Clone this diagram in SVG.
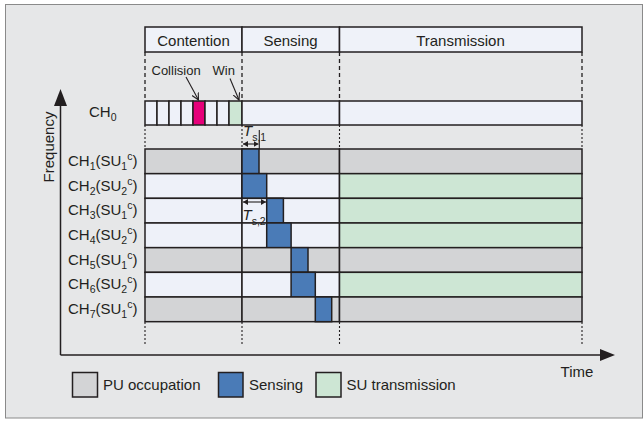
<svg xmlns="http://www.w3.org/2000/svg" width="644" height="421" viewBox="0 0 644 421">
<defs>
<style>
text{font-family:"Liberation Sans",Arial,sans-serif;fill:#231f20;}
.lbl{font-size:15px;}
.sm{font-size:13px;}
.sub{font-size:10.5px;}
.cell{stroke:#231f20;stroke-width:1.5;}
.hdr{fill:#eff2f9;}
.lt{fill:#eef1f9;}
.pu{fill:#d3d4d6;}
.bl{fill:#4a7bb7;}
.gr{fill:#cde6d4;}
.mg{fill:#e6007a;}
.dash{stroke:#231f20;stroke-width:1.3;stroke-dasharray:4 3;fill:none;}
.dot{stroke:#231f20;stroke-width:1.1;stroke-dasharray:2 2;fill:none;}
.ax{stroke:#231f20;stroke-width:1.5;fill:none;}
.thin{stroke:#231f20;stroke-width:1.1;fill:none;}
</style>
<marker id="open" markerWidth="8" markerHeight="8" refX="7" refY="4" orient="auto" markerUnits="userSpaceOnUse">
<path d="M0,0.5 L7,4 L0,7.5" fill="none" stroke="#231f20" stroke-width="1.1"/>
</marker>
<marker id="tri" markerWidth="6" markerHeight="6" refX="5" refY="3" orient="auto-start-reverse" markerUnits="userSpaceOnUse">
<path d="M0,0 L5,3 L0,6 Z" fill="#231f20"/>
</marker>
</defs>

<rect x="5.5" y="4.5" width="637" height="413.5" fill="#e6e7e8" stroke="#8a8a8a" stroke-width="1"/>

<g id="axes">
<line class="ax" x1="60.5" y1="355" x2="601" y2="355"/>
<path d="M600,349 L615,355 L600,361 Z" fill="#231f20"/>
<line class="ax" x1="60.5" y1="355" x2="60.5" y2="104"/>
<path d="M54,106 L60.5,89 L67,106 Z" fill="#231f20"/>
<text class="lbl" font-size="14.5" text-anchor="middle" transform="translate(53.5,147) rotate(-90)">Frequency</text>
<text class="lbl" x="577" y="376.5" text-anchor="middle">Time</text>
</g>

<g id="header">
<rect class="cell hdr" x="145" y="27" width="97" height="25"/>
<rect class="cell hdr" x="242" y="27" width="97.5" height="25"/>
<rect class="cell hdr" x="339.5" y="27" width="242.5" height="25"/>
<text class="lbl" x="193.5" y="45.5" text-anchor="middle">Contention</text>
<text class="lbl" x="290.5" y="45.5" text-anchor="middle">Sensing</text>
<text class="lbl" x="460.5" y="45.5" text-anchor="middle">Transmission</text>
</g>

<g id="guides">
<path class="dash" d="M145,52 V101 M242,52 V101 M339.5,52 V101 M582,52 V101"/>
<path class="dot" d="M145,125 V149 M242,125 V149 M339.5,125 V149 M582,125 V149"/>
<path class="dot" d="M145,322 V344 M242,322 V344 M339.5,322 V344 M582,322 V344"/>
</g>

<g id="ch0">
<rect class="cell lt" x="145" y="101" width="12" height="24"/>
<rect class="cell lt" x="157" y="101" width="12" height="24"/>
<rect class="cell lt" x="169" y="101" width="12" height="24"/>
<rect class="cell lt" x="181" y="101" width="12" height="24"/>
<rect class="cell mg" x="193" y="101" width="12" height="24"/>
<rect class="cell lt" x="205" y="101" width="12" height="24"/>
<rect class="cell lt" x="217" y="101" width="12" height="24"/>
<rect class="cell gr" x="229" y="101" width="13" height="24"/>
<rect class="cell lt" x="242" y="101" width="97.5" height="24"/>
<rect class="cell lt" x="339.5" y="101" width="242.5" height="24"/>
<text class="lbl" x="89" y="117">CH<tspan class="sub" dy="4">0</tspan></text>
<text class="sm" x="151.5" y="75">Collision</text>
<text class="sm" x="212.5" y="75">Win</text>
</g>

<g id="ch1">
<rect class="cell pu" x="145" y="149" width="97" height="24.67"/>
<rect class="cell pu" x="242" y="149" width="97.5" height="24.67"/>
<rect class="cell pu" x="339.5" y="149" width="242.5" height="24.67"/>
<rect class="cell bl" x="242" y="149" width="17" height="24.67"/>
<text class="lbl" x="68" y="166">CH<tspan class="sub" dy="4">1</tspan><tspan dy="-4">(SU</tspan><tspan class="sub" dy="4">1</tspan><tspan class="sub" dy="-10">c</tspan><tspan dy="6">)</tspan></text>
</g>
<g id="ch2">
<rect class="cell lt" x="145" y="173.67" width="97" height="24.67"/>
<rect class="cell lt" x="242" y="173.67" width="97.5" height="24.67"/>
<rect class="cell gr" x="339.5" y="173.67" width="242.5" height="24.67"/>
<rect class="cell bl" x="242" y="173.67" width="24.7" height="24.67"/>
<text class="lbl" x="68" y="190.7">CH<tspan class="sub" dy="4">2</tspan><tspan dy="-4">(SU</tspan><tspan class="sub" dy="4">2</tspan><tspan class="sub" dy="-10">c</tspan><tspan dy="6">)</tspan></text>
</g>
<g id="ch3">
<rect class="cell lt" x="145" y="198.33" width="97" height="24.67"/>
<rect class="cell lt" x="242" y="198.33" width="97.5" height="24.67"/>
<rect class="cell gr" x="339.5" y="198.33" width="242.5" height="24.67"/>
<rect class="cell bl" x="266.7" y="198.33" width="16.7" height="24.67"/>
<text class="lbl" x="68" y="215.3">CH<tspan class="sub" dy="4">3</tspan><tspan dy="-4">(SU</tspan><tspan class="sub" dy="4">1</tspan><tspan class="sub" dy="-10">c</tspan><tspan dy="6">)</tspan></text>
</g>
<g id="ch4">
<rect class="cell lt" x="145" y="223" width="97" height="24.67"/>
<rect class="cell lt" x="242" y="223" width="97.5" height="24.67"/>
<rect class="cell gr" x="339.5" y="223" width="242.5" height="24.67"/>
<rect class="cell bl" x="266.7" y="223" width="24.4" height="24.67"/>
<text class="lbl" x="68" y="240">CH<tspan class="sub" dy="4">4</tspan><tspan dy="-4">(SU</tspan><tspan class="sub" dy="4">2</tspan><tspan class="sub" dy="-10">c</tspan><tspan dy="6">)</tspan></text>
</g>
<g id="ch5">
<rect class="cell pu" x="145" y="247.67" width="97" height="24.67"/>
<rect class="cell pu" x="242" y="247.67" width="97.5" height="24.67"/>
<rect class="cell pu" x="339.5" y="247.67" width="242.5" height="24.67"/>
<rect class="cell bl" x="291.1" y="247.67" width="16.9" height="24.67"/>
<text class="lbl" x="68" y="264.7">CH<tspan class="sub" dy="4">5</tspan><tspan dy="-4">(SU</tspan><tspan class="sub" dy="4">1</tspan><tspan class="sub" dy="-10">c</tspan><tspan dy="6">)</tspan></text>
</g>
<g id="ch6">
<rect class="cell lt" x="145" y="272.33" width="97" height="24.67"/>
<rect class="cell lt" x="242" y="272.33" width="97.5" height="24.67"/>
<rect class="cell gr" x="339.5" y="272.33" width="242.5" height="24.67"/>
<rect class="cell bl" x="291.1" y="272.33" width="24.2" height="24.67"/>
<text class="lbl" x="68" y="289.3">CH<tspan class="sub" dy="4">6</tspan><tspan dy="-4">(SU</tspan><tspan class="sub" dy="4">2</tspan><tspan class="sub" dy="-10">c</tspan><tspan dy="6">)</tspan></text>
</g>
<g id="ch7">
<rect class="cell pu" x="145" y="297" width="97" height="24.67"/>
<rect class="cell pu" x="242" y="297" width="97.5" height="24.67"/>
<rect class="cell pu" x="339.5" y="297" width="242.5" height="24.67"/>
<rect class="cell bl" x="315.3" y="297" width="16.4" height="24.67"/>
<text class="lbl" x="68" y="314">CH<tspan class="sub" dy="4">7</tspan><tspan dy="-4">(SU</tspan><tspan class="sub" dy="4">1</tspan><tspan class="sub" dy="-10">c</tspan><tspan dy="6">)</tspan></text>
</g>

<g id="connectors">
<line class="thin" x1="186" y1="77" x2="198.5" y2="100" marker-end="url(#open)"/>
<line class="thin" x1="230" y1="78.5" x2="239" y2="100" marker-end="url(#open)"/>
<line class="thin" x1="259.3" y1="130" x2="259.3" y2="149"/>
<line class="thin" x1="243" y1="144" x2="258.5" y2="144" marker-start="url(#tri)" marker-end="url(#tri)"/>
<line class="thin" x1="243" y1="202" x2="266" y2="202" marker-start="url(#tri)" marker-end="url(#tri)"/>
</g>

<g id="ts-labels">
<text class="lbl" font-size="14" x="243" y="136"><tspan font-style="italic">T</tspan><tspan class="sub" dy="4.5">s,1</tspan></text>
<text class="lbl" font-size="14" x="242.5" y="220"><tspan font-style="italic">T</tspan><tspan class="sub" dy="4.5">s,2</tspan></text>
</g>

<g id="legend">
<rect class="cell pu" x="72.5" y="372.5" width="25" height="24.5"/>
<text class="lbl" x="103" y="390">PU occupation</text>
<rect class="cell bl" x="218.5" y="372.5" width="24.5" height="24.5"/>
<text class="lbl" x="249" y="390">Sensing</text>
<rect class="cell gr" x="316" y="372.5" width="25" height="24.5"/>
<text class="lbl" x="346.5" y="390">SU transmission</text>
</g>
</svg>
